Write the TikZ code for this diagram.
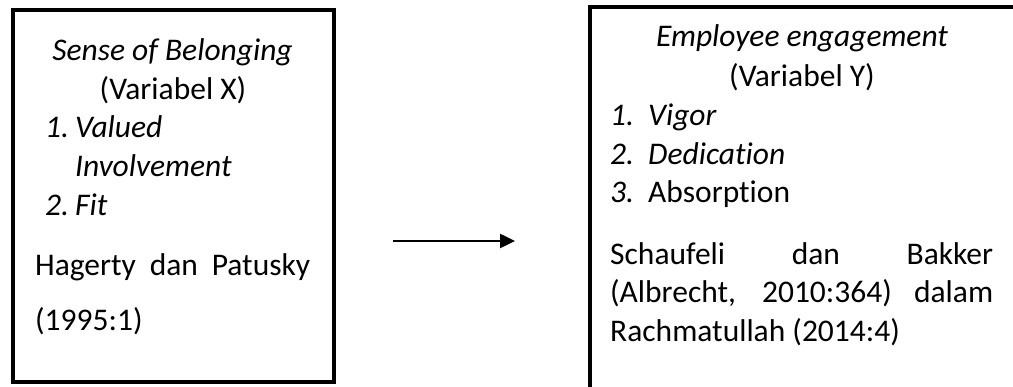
\documentclass[tikz,border=0pt]{standalone}
\usepackage{fontspec}
\setmainfont{Carlito}[Ligatures=NoCommon]
\usetikzlibrary{arrows.meta}
\tikzset{
	frame/.style={draw,line width=4pt,inner sep=0pt},
	txt/.style={inner sep=0pt,anchor=base west,font=\fontsize{31.5}{39}\selectfont},
	ctxt/.style={txt,anchor=base},
}
\begin{document}
\begin{tikzpicture}[x=1pt,y=-1pt]
	\useasboundingbox (0,0) rectangle (1013,387);
	\clip (0,0) rectangle (1013,387);
	% variabel X
	\node[frame,minimum width=321pt,minimum height=371.5pt] (boxX) at (173.5,196.25) {};
	\node[ctxt] (titleX) at (172.5,61) {\itshape Sense of Belonging};
	\node[ctxt] (varX) at (173,100) {(Variabel X)};
	\node[txt] (numX1) at (45,138) {\itshape 1.};
	\node[txt] (itemX1) at (75,138) {\itshape Valued};
	\node[txt] (itemX1b) at (75,177) {\itshape Involvement};
	\node[txt] (numX2) at (45,216) {\itshape 2.};
	\node[txt] (itemX2) at (75,216) {\itshape Fit};
	\node[txt] (srcX) at (35,276) {\makebox[275pt][s]{Hagerty dan Patusky}};
	\node[txt] (yearX) at (35,331) {(1995:1)};
	% variabel Y
	\node[frame,minimum width=600pt,minimum height=500pt,anchor=north west] (boxY) at (587.5,5.5) {};
	\node[ctxt] (titleY) at (802,47) {\itshape Employee engagement};
	\node[ctxt] (varY) at (802,87) {(Variabel Y)};
	\foreach \i/\entry/\yy in {1/\textit{Vigor}/126,2/\textit{Dedication}/165,3/Absorption/203}{
		\node[txt] (numY\i) at (610,\yy) {\itshape\i.};
		\node[txt] (itemY\i) at (648,\yy) {\entry};
	}
	\node[txt] (srcY1) at (610,265) {\makebox[383pt][s]{Schaufeli dan Bakker}};
	\node[txt] (srcY2) at (610,303) {\makebox[383pt][s]{(Albrecht, 2010:364) dalam}};
	\node[txt] (srcY3) at (610,342) {Rachmatullah (2014:4)};
	% arrow
	\coordinate (tail) at (393,241);
	\coordinate (head) at (515,241);
	\draw[line width=2.5pt,-{Triangle[length=15pt,width=14pt]}] (tail) -- (head);
\end{tikzpicture}
\end{document}
